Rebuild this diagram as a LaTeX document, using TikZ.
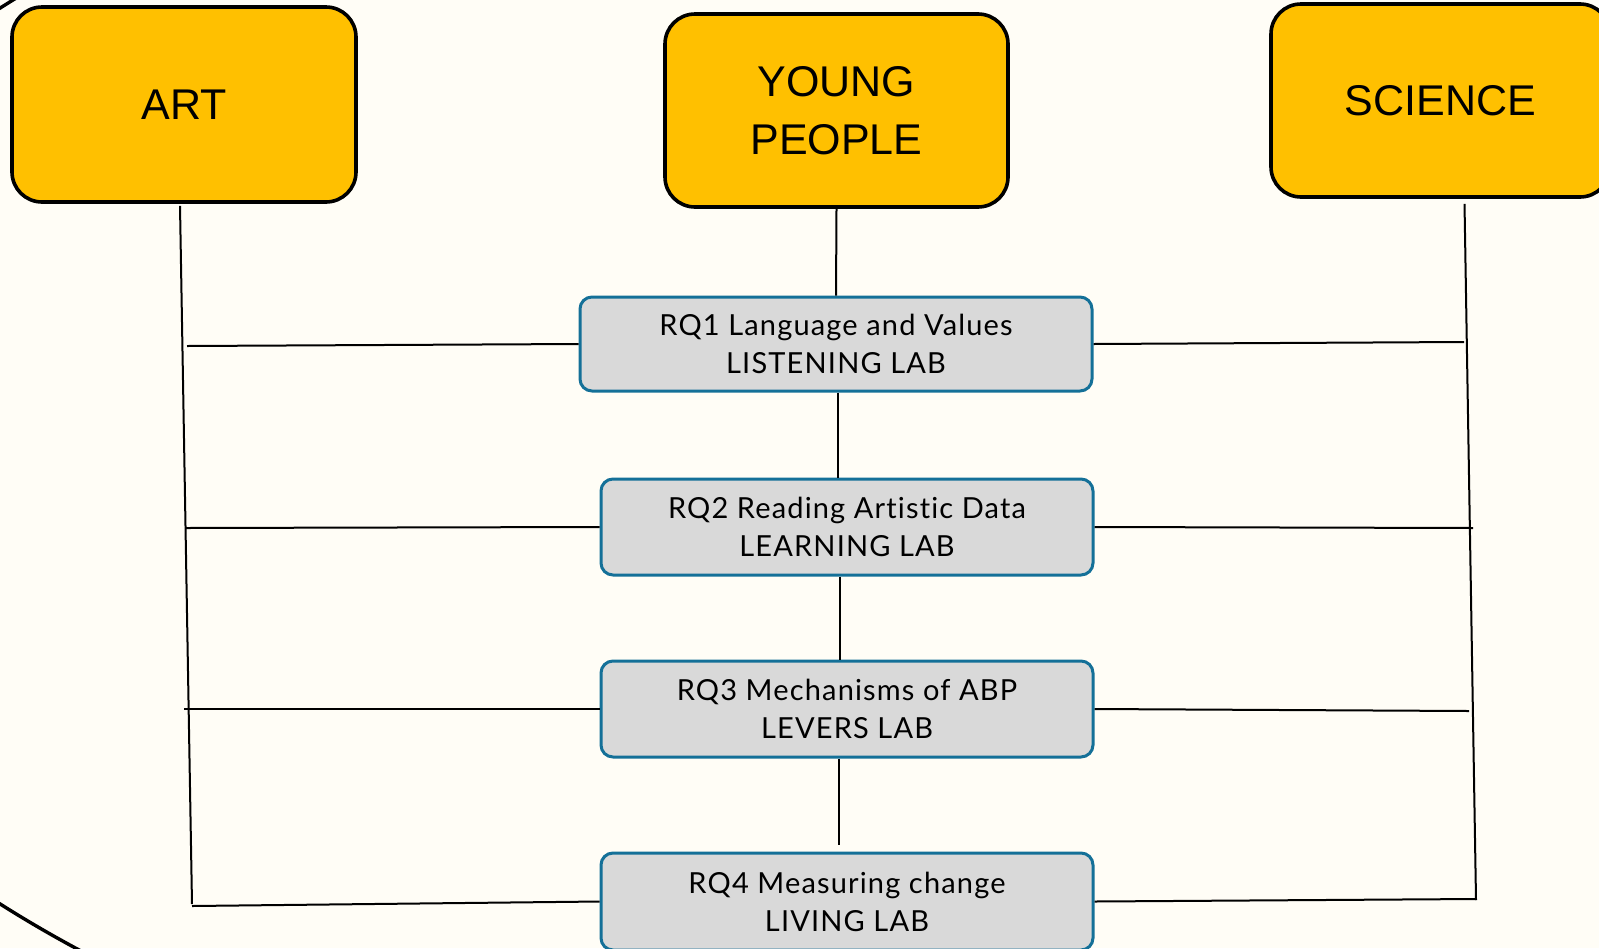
\documentclass[tikz,border=0pt]{standalone}
\usepackage{fontspec}
\setmainfont{Liberation Sans}
\newfontfamily\rqfont[LetterSpace=4,Ligatures=NoCommon]{Lato}
\definecolor{bgc}{HTML}{FFFDF6}
\definecolor{gold}{HTML}{FFC000}
\definecolor{rqfill}{HTML}{D9D9D9}
\definecolor{rqline}{RGB}{20,112,152}
\tikzset{
  topbox/.style={draw=black, line width=1.8pt, fill=gold, rounded corners=15pt,
    align=center, inner sep=0pt, font=\fontsize{21.5}{29}\selectfont},
  rqbox/.style={draw=rqline, line width=1.5pt, fill=rqfill, rounded corners=6pt,
    align=center, inner sep=0pt, font=\rqfont\fontsize{14.5}{19}\selectfont},
  conn/.style={draw=black, line width=1pt},
}
\begin{document}
\begin{tikzpicture}[x=0.5pt,y=-0.5pt]
\useasboundingbox (0,0) rectangle (1599,948);
\clip (0,0) rectangle (1599,948);
\fill[bgc] (0,0) rectangle (1599,948);
\draw[line width=1.7pt] (1137,456) ellipse [x radius=723.5pt, y radius=362pt];

\node[topbox, minimum width=172pt, minimum height=97.5pt] (art) at (184,104.5) {ART};
\node[topbox, minimum width=171.5pt, minimum height=96.5pt] (yp) at (836.5,110.5) {YOUNG\\PEOPLE};
\node[topbox, minimum width=169.5pt, minimum height=96.5pt] (sci) at (1440.5,100.5) {SCIENCE};

\node[rqbox, minimum width=256pt, minimum height=47pt] (rq1) at (836,344) {RQ1 Language and Values\\LISTENING LAB};
\node[rqbox, minimum width=246pt, minimum height=48pt] (rq2) at (847,527) {RQ2 Reading Artistic Data\\LEARNING LAB};
\node[rqbox, minimum width=246pt, minimum height=48pt] (rq3) at (847,709) {RQ3 Mechanisms of ABP\\LEVERS LAB};
\node[rqbox, minimum width=246pt, minimum height=48.5pt] (rq4) at (847,901.5) {RQ4 Measuring change\\LIVING LAB};

% side rails
\coordinate (artB) at (192,904);
\coordinate (sciB) at (1476,900);
\draw[conn] ([xshift=-2pt,yshift=-1pt]art.south) -- (artB);
\draw[conn] ([xshift=12pt,yshift=-2.5pt]sci.south) -- (sciB);

% vertical chain
\draw[conn] (yp.south) -- (rq1.north);
\draw[conn] ([xshift=1pt]rq1.south) -- ([xshift=-4.5pt]rq2.north);
\draw[conn] ([xshift=-3.5pt]rq2.south) -- ([xshift=-3.5pt]rq3.north);
\draw[conn] ([xshift=-4pt]rq3.south) -- ([xshift=-4pt,yshift=3.5pt]rq4.north);

% horizontal links
\coordinate (l1) at (187,346);
\coordinate (l2) at (186,528);
\coordinate (l3) at (184,709);
\coordinate (l4) at (192,906);
\coordinate (r1) at (1464,342);
\coordinate (r2) at (1473,528);
\coordinate (r3) at (1469,711);
\coordinate (r4) at (1476,899);
\draw[conn] (l1) -- (rq1.west);
\draw[conn] (l2) -- (rq2.west);
\draw[conn] (l3) -- (rq3.west);
\draw[conn] (l4) -- (rq4.west);
\draw[conn] (rq1.east) -- (r1);
\draw[conn] (rq2.east) -- (r2);
\draw[conn] (rq3.east) -- (r3);
\draw[conn] (rq4.east) -- (r4);
\end{tikzpicture}
\end{document}
